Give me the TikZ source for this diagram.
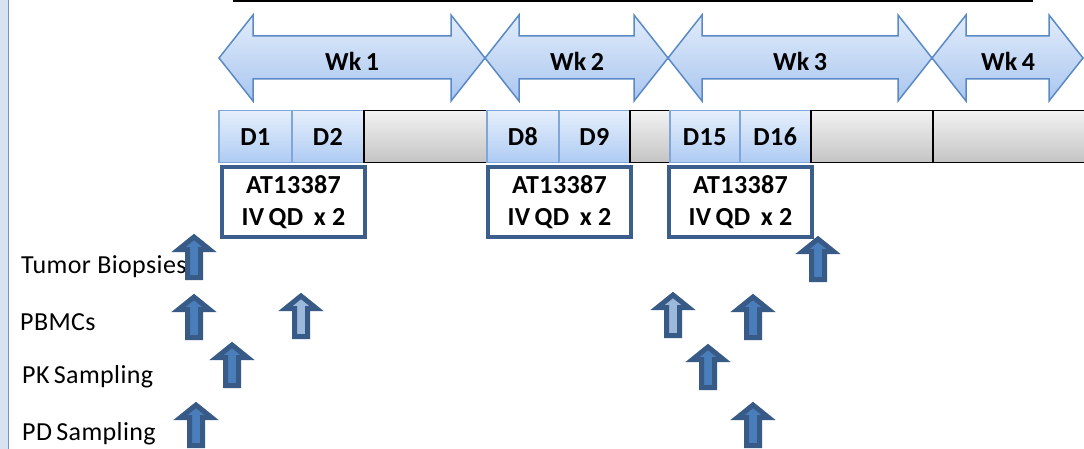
\documentclass[tikz,border=0pt]{standalone}
\usepackage{fontspec}
\setmainfont{Carlito}
\definecolor{bandfill}{HTML}{D9E2F3}
\definecolor{bandline}{HTML}{6F95CC}
\definecolor{wktop}{HTML}{E2ECFB}
\definecolor{wkbot}{HTML}{A9C6EF}
\definecolor{wkline}{HTML}{5A8AC6}
\definecolor{daytop}{HTML}{E6EFFC}
\definecolor{daybot}{HTML}{AECBF3}
\definecolor{dayline}{HTML}{7FA6D8}
\definecolor{graytop}{HTML}{F2F2F2}
\definecolor{graybot}{HTML}{C4C4C4}
\definecolor{drugline}{HTML}{3B5E8D}
\definecolor{arrline}{HTML}{375A87}
\definecolor{arrfill}{HTML}{4A7EBB}
\definecolor{arrlight}{HTML}{9CB8DA}
\newfontfamily\spaced[LetterSpace=1.5]{Carlito}
\tikzset{
  wkarrow/.style={draw=wkline, line width=1.5pt, top color=wktop, bottom color=wkbot, line join=miter},
  wktext/.style={font=\spaced\fontsize{26}{30}\selectfont\bfseries, inner sep=0pt},
  daybox/.style={draw=dayline, line width=1.5pt, top color=daytop, bottom color=daybot, anchor=north west, inner sep=0pt, minimum height=52pt, font=\spaced\fontsize{26}{30}\selectfont\bfseries},
  graybox/.style={draw=black, line width=1.5pt, top color=graytop, bottom color=graybot, anchor=north west, inner sep=0pt, minimum height=52pt},
  drugbox/.style={draw=drugline, line width=4pt, fill=white, anchor=north west, inner sep=0pt, minimum width=143pt, minimum height=70pt, align=center, font=\spaced\fontsize{26}{32}\selectfont\bfseries},
  rowlabel/.style={anchor=base west, inner sep=0pt, font=\spaced\fontsize{26}{30}\selectfont},
  arrshape/.style={draw=arrline, line width=5pt, line join=miter},
  uparr/.pic={\path[arrshape, fill=arrfill] (0,4) -- (15.5,16.5) -- (6.5,16.5) -- (6.5,44.5) -- (-6.5,44.5) -- (-6.5,16.5) -- (-15.5,16.5) -- cycle;},
  uparrlight/.pic={\path[arrshape, fill=arrlight] (0,4) -- (15.5,16.5) -- (6.5,16.5) -- (6.5,44.5) -- (-6.5,44.5) -- (-6.5,16.5) -- (-15.5,16.5) -- cycle;}
}
\newcommand{\wkarr}[2]{%
  \path[wkarrow] (#1,58) -- (#1+34,15) -- (#1+34,36) -- (#2-34,36) -- (#2-34,15) -- (#2,58) -- (#2-34,101) -- (#2-34,79) -- (#1+34,79) -- (#1+34,101) -- cycle;}
\begin{document}
\begin{tikzpicture}[x=1pt,y=-1pt]
\useasboundingbox (0,0) rectangle (1084,449);
% left band
\fill[bandfill] (0,0) rectangle (8,449);
\draw[bandline, line width=1.5pt] (8.5,0) -- (8.5,449);
% top rule
\draw[black, line width=2pt] (233,1) -- (1033,1);
% week arrows
\wkarr{219}{485}
\wkarr{485}{668}
\wkarr{668}{932}
\wkarr{932}{1083}
\node[wktext] (wk1) at (352,61) {Wk\,1};
\node[wktext] (wk2) at (577,61) {Wk\,2};
\node[wktext] (wk3) at (800,61) {Wk\,3};
\node[wktext] (wk4) at (1008,61) {Wk\,4};
% day boxes
\node[daybox, minimum width=73pt] (d1) at (218,110) {D1};
\node[daybox, minimum width=72pt] (d2) at (291,110) {D2};
\node[graybox, minimum width=123pt] (g1) at (363,110) {};
\node[daybox, minimum width=72pt] (d8) at (486,110) {D8};
\node[daybox, minimum width=71pt] (d9) at (558,110) {D9};
\node[graybox, minimum width=40pt] (g2) at (629,110) {};
\node[daybox, minimum width=70pt] (d15) at (669,110) {D15};
\node[daybox, minimum width=71pt] (d16) at (739,110) {D16};
\node[graybox, minimum width=122pt] (g3) at (810,110) {};
\node[graybox, minimum width=160pt] (g4) at (932,110) {};
% drug boxes
\node[drugbox] (dr1) at (220,165) {AT13387\\IV\,QD\, x 2};
\node[drugbox] (dr2) at (486,165) {AT13387\\IV\,QD\, x 2};
\node[drugbox] (dr3) at (667,165) {AT13387\\IV\,QD\, x 2};
% row labels
\node[rowlabel] (tb) at (21,273) {Tumor Biopsies};
\node[rowlabel] (pb) at (20,330) {PBMCs};
\node[rowlabel] (pk) at (22,383) {PK\,Sampling};
\node[rowlabel] (pd) at (22,440) {PD\,Sampling};
% sampling arrows
\pic at (194,233) {uparr};
\pic at (194,293) {uparr};
\pic at (301,292) {uparrlight};
\pic at (232,341) {uparr};
\pic at (196,401) {uparr};
\pic at (818,235) {uparr};
\pic at (673,291) {uparrlight};
\pic at (753,293) {uparr};
\pic at (708,343) {uparr};
\pic at (753,401) {uparr};
\end{tikzpicture}
\end{document}
